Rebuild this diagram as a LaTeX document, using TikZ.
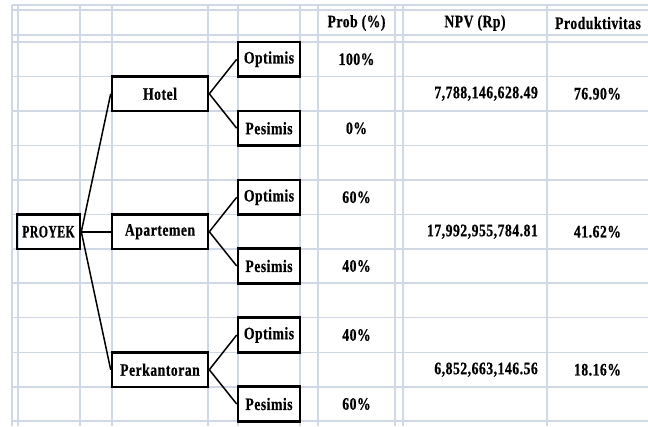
\documentclass[tikz,border=0pt]{standalone}
\usepackage{graphicx}
\usepackage{fontspec}
\setmainfont{Liberation Serif}[FakeStretch=0.78,LetterSpace=3,FakeBold=0.6]
\definecolor{gridc}{RGB}{208,215,229}
\begin{document}
\begin{tikzpicture}[x=1bp,y=-1bp,
  txt/.style={font=\fontsize{17.5bp}{19bp}\selectfont\bfseries, inner sep=0pt},
  box/.style={txt, draw=black, line width=2.6bp, rectangle},
  conn/.style={draw=black, line width=1.5bp},
  gl/.style={draw=gridc, line width=1.2bp}]
\useasboundingbox (0,0) rectangle (648,426);
\fill[white] (0,0) rectangle (648,426);
% grid
\foreach \xx in {12,18,80,112,208,238,300,318,395,403,547}
  \draw[gl] (\xx,5) -- (\xx,426);
\foreach \yy in {5,10,35,42,76.5,111,145.5,180,214.5,249,283,317.5,352.5,387,421}
  \draw[gl] (12,\yy) -- (648,\yy);
% headers
\node[txt] (hprob) at (356.5,23) {Prob (\%)};
\node[txt] (hnpv) at (475,23) {NPV (Rp)};
\node[txt] (hprod) at (598,23) {Produktivitas};
% boxes
\node[box, minimum width=63bp, minimum height=34.5bp] (proyek) at (48.5,231.75) {\scalebox{0.86}[1]{PROYEK}};
\node[box, minimum width=96bp, minimum height=34.5bp] (hotel) at (160,93.75) {Hotel};
\node[box, minimum width=96bp, minimum height=34.5bp] (apt) at (160,231.75) {Apartemen};
\node[box, minimum width=96bp, minimum height=34.5bp] (perk) at (160,369.75) {Perkantoran};
\node[box, minimum width=62bp, minimum height=34.5bp] (ho) at (269,59.25) {Optimis};
\node[box, minimum width=62bp, minimum height=34.5bp] (hp) at (269,128.25) {Pesimis};
\node[box, minimum width=62bp, minimum height=34.5bp] (ao) at (269,197.25) {Optimis};
\node[box, minimum width=62bp, minimum height=34.5bp] (ap) at (269,266) {Pesimis};
\node[box, minimum width=62bp, minimum height=34.5bp] (po) at (269,335) {Optimis};
\node[box, minimum width=62bp, minimum height=34.5bp] (pp) at (269,404) {Pesimis};
% connectors
\draw[conn] (proyek.east) -- (hotel.west);
\draw[conn] (proyek.east) -- (apt.west);
\draw[conn] (proyek.east) -- (perk.west);
\draw[conn] (hotel.east) -- (ho.west);
\draw[conn] (hotel.east) -- (hp.west);
\draw[conn] (apt.east) -- (ao.west);
\draw[conn] (apt.east) -- (ap.west);
\draw[conn] (perk.east) -- (po.west);
\draw[conn] (perk.east) -- (pp.west);
% probabilities
\node[txt] (p1) at (356.5,59.25) {100\%};
\node[txt] (p2) at (356.5,128.25) {0\%};
\node[txt] (p3) at (356.5,197.25) {60\%};
\node[txt] (p4) at (356.5,266) {40\%};
\node[txt] (p5) at (356.5,335) {40\%};
\node[txt] (p6) at (356.5,404) {60\%};
% NPV
\node[txt, anchor=east] (n1) at (538,93.75) {7,788,146,628.49};
\node[txt, anchor=east] (n2) at (538,231.75) {17,992,955,784.81};
\node[txt, anchor=east] (n3) at (538,369.75) {6,852,663,146.56};
% productivity
\node[txt] (r1) at (597.5,93.75) {76.90\%};
\node[txt] (r2) at (597.5,231.75) {41.62\%};
\node[txt] (r3) at (597.5,369.75) {18.16\%};
\end{tikzpicture}
\end{document}
